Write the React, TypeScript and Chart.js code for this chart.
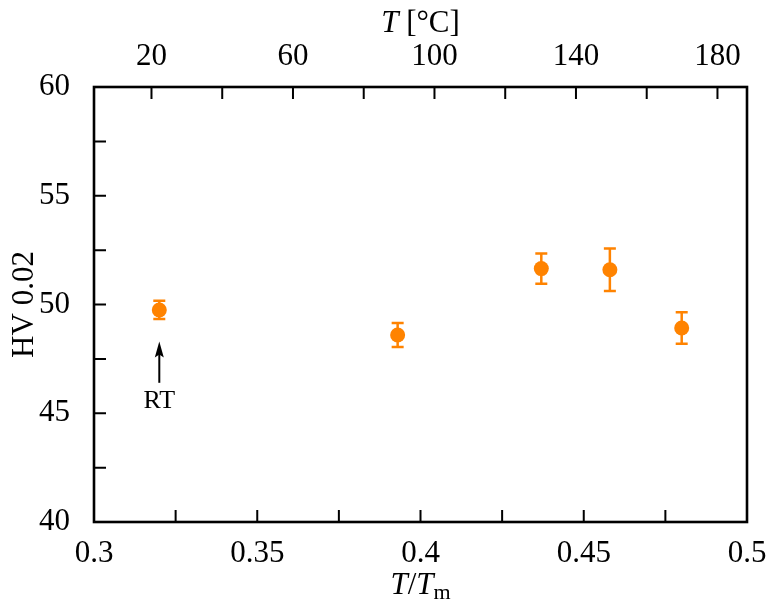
import React, { useEffect, useRef } from 'react';
import { Chart, registerables } from 'chart.js';

Chart.register(...registerables);

// ---- data ----
const tOverTm = [0.32, 0.393, 0.437, 0.458, 0.48];
const hv = [49.75, 48.6, 51.65, 51.6, 48.92];
const hvErr = [0.42, 0.55, 0.7, 0.98, 0.72];
const meltingPointK = 923;
const topTickStepC = 20;
const topLabelsC = [20, 60, 100, 140, 180];
const xLabelStep = 0.05;
const xMinorStep = 0.025;
const yLabelStep = 5;
const yMinorStep = 2.5;
const rtArrow = { x: 0.32, from: 46.4, to: 48.3, labelY: 45.55, label: 'RT' };

const ORANGE = '#ff8300';
const FONT = '"Liberation Serif", "Times New Roman", serif';

const isMultiple = (v: number, step: number) => Math.abs(v / step - Math.round(v / step)) < 1e-6;

const decorPlugin = {
  id: 'decor',
  beforeDatasetsDraw(chart: any) {
    const { ctx } = chart;
    const xs = chart.scales.x;
    const ys = chart.scales.y;
    ctx.save();
    ctx.strokeStyle = ORANGE;
    ctx.lineWidth = 2.5;
    tOverTm.forEach((x, i) => {
      const px = xs.getPixelForValue(x);
      const top = ys.getPixelForValue(hv[i] + hvErr[i]);
      const bot = ys.getPixelForValue(hv[i] - hvErr[i]);
      ctx.beginPath();
      ctx.moveTo(px, top);
      ctx.lineTo(px, bot);
      ctx.moveTo(px - 6, top);
      ctx.lineTo(px + 6, top);
      ctx.moveTo(px - 6, bot);
      ctx.lineTo(px + 6, bot);
      ctx.stroke();
    });
    ctx.restore();
  },
  afterDraw(chart: any) {
    const { ctx, chartArea: a } = chart;
    const xs = chart.scales.x;
    const ys = chart.scales.y;
    const x2 = chart.scales.x2;
    ctx.save();
    ctx.strokeStyle = '#000';
    ctx.fillStyle = '#000';
    // inward ticks
    ctx.lineWidth = 2;
    const tl = 12;
    ctx.beginPath();
    xs.ticks.forEach((t: any) => {
      const p = xs.getPixelForValue(t.value);
      ctx.moveTo(p, a.bottom);
      ctx.lineTo(p, a.bottom - tl);
    });
    ys.ticks.forEach((t: any) => {
      const p = ys.getPixelForValue(t.value);
      ctx.moveTo(a.left, p);
      ctx.lineTo(a.left + tl, p);
    });
    x2.ticks.forEach((t: any) => {
      const p = x2.getPixelForValue(t.value);
      ctx.moveTo(p, a.top);
      ctx.lineTo(p, a.top + tl);
    });
    ctx.stroke();
    // frame
    ctx.lineWidth = 2.6;
    ctx.strokeRect(a.left, a.top, a.right - a.left, a.bottom - a.top);

    // RT arrow
    const ax = xs.getPixelForValue(rtArrow.x);
    const yFrom = ys.getPixelForValue(rtArrow.from);
    const yTo = ys.getPixelForValue(rtArrow.to);
    ctx.lineWidth = 2;
    ctx.beginPath();
    ctx.moveTo(ax, yFrom);
    ctx.lineTo(ax, yTo + 8);
    ctx.stroke();
    ctx.beginPath();
    ctx.moveTo(ax, yTo);
    ctx.lineTo(ax - 4.5, yTo + 16);
    ctx.lineTo(ax, yTo + 13);
    ctx.lineTo(ax + 4.5, yTo + 16);
    ctx.closePath();
    ctx.fill();
    ctx.font = `26px ${FONT}`;
    ctx.textAlign = 'center';
    ctx.textBaseline = 'middle';
    ctx.fillText(rtArrow.label, ax, ys.getPixelForValue(rtArrow.labelY));

    // titles
    const cx = (a.left + a.right) / 2;
    const drawRuns = (runs: { t: string; f: string; dy?: number }[], x: number, y: number) => {
      let w = 0;
      runs.forEach((r) => { ctx.font = r.f; w += ctx.measureText(r.t).width; });
      let cur = x - w / 2;
      ctx.textAlign = 'left';
      ctx.textBaseline = 'alphabetic';
      runs.forEach((r) => {
        ctx.font = r.f;
        ctx.fillText(r.t, cur, y + (r.dy || 0));
        cur += ctx.measureText(r.t).width;
      });
    };
    const it = `italic 31px ${FONT}`;
    const rm = `31px ${FONT}`;
    drawRuns([{ t: 'T', f: it }, { t: ' [°C]', f: rm }], cx, 32);
    drawRuns([{ t: 'T', f: it }, { t: '/', f: rm }, { t: 'T', f: it }, { t: 'm', f: `22px ${FONT}`, dy: 5 }], cx, 594);
    ctx.save();
    ctx.translate(33, (a.top + a.bottom) / 2);
    ctx.rotate(-Math.PI / 2);
    drawRuns([{ t: 'HV 0.02', f: rm }], 0, 0);
    ctx.restore();
    ctx.restore();
  },
};

export default function App() {
  const ref = useRef<HTMLCanvasElement | null>(null);
  useEffect(() => {
    if (!ref.current) return;
    const tickFont = { family: FONT, size: 31 };
    const chart = new Chart(ref.current, {
      type: 'scatter',
      data: {
        datasets: [
          {
            label: 'HV 0.02',
            data: tOverTm.map((x, i) => ({ x, y: hv[i] })),
            backgroundColor: ORANGE,
            borderColor: ORANGE,
            pointRadius: 7.5,
            pointHoverRadius: 7.5,
            borderWidth: 0,
          },
        ],
      },
      options: {
        animation: false,
        responsive: false,
        devicePixelRatio: 1,
        layout: { padding: { left: 0, right: 26, top: 0, bottom: 0 } },
        plugins: { legend: { display: false }, tooltip: { enabled: false } },
        scales: {
          x: {
            type: 'linear',
            position: 'bottom',
            min: 0.3,
            max: 0.5,
            grid: { display: false },
            border: { display: false },
            ticks: {
              stepSize: xMinorStep,
              autoSkip: false,
              maxRotation: 0,
              padding: 5,
              color: '#000',
              font: tickFont,
              callback: (v: any) => (isMultiple(Number(v), xLabelStep) ? String(+Number(v).toFixed(2)) : ''),
            },
            afterFit: (s: any) => { s.height = 84; },
          },
          x2: {
            type: 'linear',
            position: 'top',
            min: 0.3 * meltingPointK - 273.15,
            max: 0.5 * meltingPointK - 273.15,
            grid: { display: false },
            border: { display: false },
            ticks: {
              stepSize: topTickStepC,
              includeBounds: false,
              autoSkip: false,
              maxRotation: 0,
              padding: 4,
              color: '#000',
              font: tickFont,
              callback: (v: any) => (topLabelsC.includes(Math.round(Number(v))) ? String(Math.round(Number(v))) : ''),
            },
            afterFit: (s: any) => { s.height = 87; },
          },
          y: {
            type: 'linear',
            position: 'left',
            min: 40,
            max: 60,
            grid: { display: false },
            border: { display: false },
            ticks: {
              stepSize: yMinorStep,
              autoSkip: false,
              padding: 16,
              color: '#000',
              font: tickFont,
              callback: (v: any) => (isMultiple(Number(v), yLabelStep) ? String(Number(v)) : ''),
            },
            afterFit: (s: any) => { s.width = 94; },
          },
        },
      },
      plugins: [decorPlugin],
    } as any);
    return () => chart.destroy();
  }, []);
  return (
    <div style={{ position: 'absolute', left: 0, top: 0, width: 773, height: 606, background: '#fff' }}>
      <canvas ref={ref} width={773} height={606} style={{ display: 'block' }} />
    </div>
  );
}
